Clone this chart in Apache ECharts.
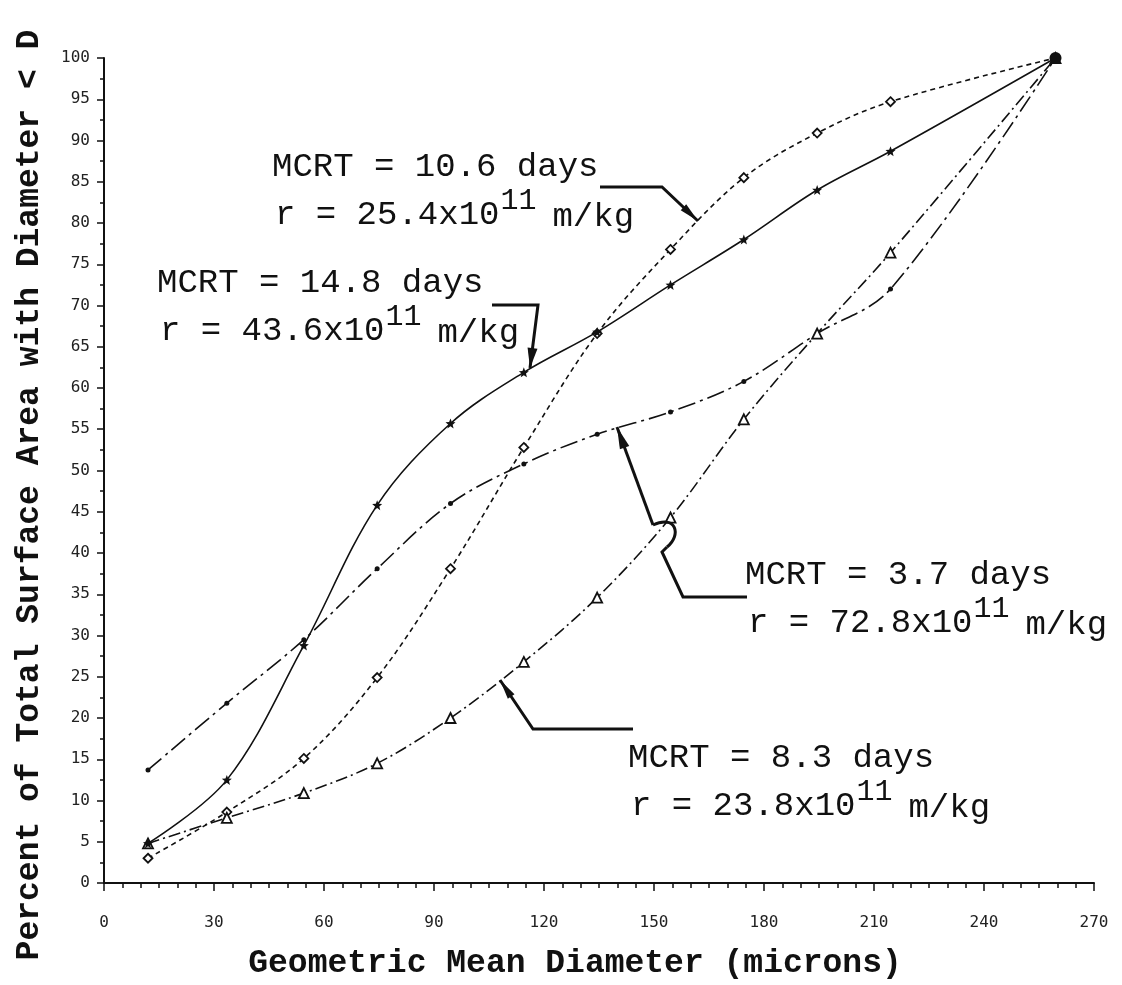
<!DOCTYPE html>
<html>
<head>
<meta charset="utf-8">
<script src="https://cdn.jsdelivr.net/npm/echarts@6/dist/echarts.min.js"></script>
<style>
  html, body { margin: 0; background: #fff; }
  #chart { width: 1122px; height: 985px; }
</style>
</head>
<body>
<div id="chart"></div>
<script>
  // geometric mean diameter of each sieve class (microns)
  var diameters = [12, 33.5, 54.5, 74.5, 94.5, 114.5, 134.5, 154.5, 174.5, 194.5, 214.5, 259.5]
  // cumulative % of total surface area, one list per run
  var run148 = [4.8, 12.5, 28.8, 45.8, 55.7, 61.9, 66.8, 72.5, 78.0, 84.0, 88.7, 100]
  var run37 = [13.7, 21.8, 29.5, 38.1, 46.0, 50.8, 54.4, 57.1, 60.8, 66.6, 72.0, 100]
  var run106 = [3.0, 8.6, 15.1, 24.9, 38.1, 52.8, 66.6, 76.8, 85.5, 90.9, 94.7, 100]
  var run83 = [4.8, 7.9, 10.9, 14.5, 20.0, 26.8, 34.6, 44.3, 56.2, 66.6, 76.4, 100]

  var MONO = '"Liberation Mono", "DejaVu Sans Mono", monospace'
  var INK = '#111'
  var STAR = 'path://M0,-10 L2.6,-3.4 L9.5,-3.1 L4.1,1.3 L5.9,8.1 L0,4.2 L-5.9,8.1 L-4.1,1.3 L-9.5,-3.1 L-2.6,-3.4 Z'

  function pairs (ys) {
    return diameters.map(function (d, i) { return [d, ys[i]] })
  }

  function txt (x, y, s, size) {
    return {
      type: 'text', x: x, y: y, z: 10,
      style: { text: s, fill: INK, fontFamily: MONO, fontSize: size || 34, verticalAlign: 'middle' }
    }
  }

  // two-line note: "MCRT = ..." and "r = NN.Nx10^11 m/kg"
  function note (x, y, mcrt, r) {
    var cw = 20.4
    var first = 'r = ' + r + 'x10'
    return [
      txt(x, y, 'MCRT = ' + mcrt + ' days'),
      txt(x + 3, y + 48, first),
      txt(x + 4 + first.length * cw, y + 34, '11', 30),
      txt(x + 3 + (first.length + 2.6) * cw, y + 50, 'm/kg')
    ]
  }

  function arrow (pts, len, w) {
    var n = pts.length
    var tx = pts[n - 1][0], ty = pts[n - 1][1]
    var dx = tx - pts[n - 2][0], dy = ty - pts[n - 2][1]
    var d = Math.sqrt(dx * dx + dy * dy)
    dx /= d; dy /= d
    var bx = tx - dx * len, by = ty - dy * len
    return [{
      type: 'polyline', z: 10,
      shape: { points: pts },
      style: { stroke: INK, lineWidth: 3, fill: null }
    }, {
      type: 'polygon', z: 10,
      shape: { points: [[tx, ty], [bx - dy * w, by + dx * w], [bx + dy * w, by - dx * w]] },
      style: { fill: INK }
    }]
  }

  var graphics = [
    {
      type: 'text', x: 30, y: 495, rotation: Math.PI / 2,
      style: { text: 'Percent of Total Surface Area with Diameter < D', fill: INK, fontFamily: MONO, fontSize: 33, fontWeight: 'bold', align: 'center', verticalAlign: 'middle' }
    },
    {
      type: 'text', x: 575, y: 964,
      style: { text: 'Geometric Mean Diameter (microns)', fill: INK, fontFamily: MONO, fontSize: 33, fontWeight: 'bold', align: 'center', verticalAlign: 'middle' }
    }
  ]
  graphics = graphics
    .concat(note(272, 167, '10.6', '25.4'))
    .concat(note(157, 283, '14.8', '43.6'))
    .concat(note(745, 575, '3.7', '72.8'))
    .concat(note(628, 758, '8.3', '23.8'))
    .concat(arrow([[600, 187], [662, 187], [698, 221]], 20, 4))
    .concat(arrow([[492, 305], [538, 305], [530, 368]], 20, 5))
    .concat(arrow([[653, 525], [617, 427]], 22, 5))
    .concat(arrow([[633, 729], [533, 729], [500, 680]], 20, 4))
  // the 3.7-day leader hops over the 8.3-day curve
  graphics.push({
    type: 'polyline', z: 10,
    shape: { points: [[747, 597], [683, 597], [662, 552], [667, 547]] },
    style: { stroke: INK, lineWidth: 3, fill: null }
  }, {
    type: 'bezierCurve', z: 10,
    shape: { x1: 667, y1: 547, cpx1: 682, cpy1: 535, cpx2: 676, cpy2: 514, x2: 653, y2: 525 },
    style: { stroke: INK, lineWidth: 3, fill: null }
  })

  var myChart = echarts.init(document.getElementById('chart'))
  var option = {
    backgroundColor: '#fff',
    animation: false,
    grid: { left: 104, right: 28, top: 58, bottom: 102, outerBoundsMode: 'none' },
    xAxis: {
      type: 'value', min: 0, max: 270, interval: 30,
      offset: 10,
      axisLine: { lineStyle: { color: INK, width: 2 } },
      axisTick: { length: 8, lineStyle: { color: INK, width: 1.5 } },
      minorTick: { show: true, splitNumber: 6, length: 5, lineStyle: { color: INK, width: 1.5 } },
      splitLine: { show: false },
      axisLabel: { color: '#222', fontFamily: '"DejaVu Sans Mono", monospace', fontSize: 16, margin: 22 }
    },
    yAxis: {
      type: 'value', min: 0, max: 100, interval: 5,
      offset: 6,
      axisLine: { lineStyle: { color: INK, width: 2 } },
      axisTick: { length: 7, lineStyle: { color: INK, width: 1.5 } },
      minorTick: { show: true, splitNumber: 2, length: 4, lineStyle: { color: INK, width: 1.5 } },
      splitLine: { show: false },
      axisLabel: { color: '#222', fontFamily: '"DejaVu Sans Mono", monospace', fontSize: 16, margin: 8 }
    },
    series: [{
      name: '3.7 days',
      type: 'line',
      smooth: 0.35,
      data: pairs(run37),
      symbol: 'circle',
      symbolSize: 5,
      itemStyle: { color: INK },
      lineStyle: { color: INK, width: 1.6, type: [18, 5, 3, 5] }
    }, {
      name: '10.6 days',
      type: 'line',
      smooth: 0.35,
      data: pairs(run106),
      symbol: 'diamond',
      symbolSize: 9,
      itemStyle: { color: '#fff', borderColor: INK, borderWidth: 1.8 },
      lineStyle: { color: INK, width: 1.6, type: [5, 4] }
    }, {
      name: '8.3 days',
      type: 'line',
      smooth: 0.35,
      data: pairs(run83),
      symbol: 'triangle',
      symbolSize: 10,
      itemStyle: { color: '#fff', borderColor: INK, borderWidth: 1.8 },
      lineStyle: { color: INK, width: 1.6, type: [12, 4, 2, 4] }
    }, {
      name: '14.8 days',
      type: 'line',
      smooth: 0.35,
      z: 4,
      data: pairs(run148).map(function (p, i) {
        return i === diameters.length - 1 ? { value: p, symbol: 'circle', symbolSize: 12 } : p
      }),
      symbol: STAR,
      symbolSize: 10,
      itemStyle: { color: INK },
      lineStyle: { color: INK, width: 1.6, type: 'solid' }
    }],
    graphic: graphics
  }
  myChart.setOption(option)
</script>
</body>
</html>
